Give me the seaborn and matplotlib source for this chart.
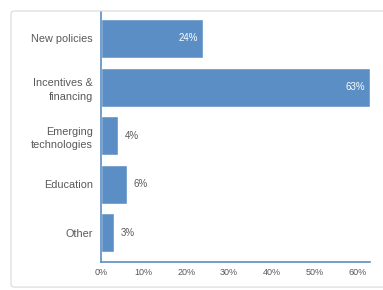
import matplotlib
matplotlib.use('Agg')
import matplotlib.pyplot as plt
import seaborn as sns
import pandas as pd
from matplotlib.patches import FancyBboxPatch

# data
categories = ['New policies', 'Incentives &\nfinancing', 'Emerging\ntechnologies', 'Education', 'Other']
values = [24, 63, 4, 6, 3]
tick_vals = [0, 10, 20, 30, 40, 50, 60]
tick_labels = ['0%', '10%', '20%', '30%', '40%', '50%', '60%']

bar_color = '#5B8EC4'
text_color = '#595959'

sns.set_style('white')
plt.rcParams['font.family'] = ['Liberation Sans', 'DejaVu Sans']

df = pd.DataFrame({'cat': categories, 'val': values})

fig = plt.figure(figsize=(3.83, 2.90), dpi=100)
ax = fig.add_axes([101 / 383, 1 - 262 / 290, (370 - 101) / 383, (262 - 12) / 290])

sns.barplot(data=df, x='val', y='cat', color=bar_color, saturation=1, width=0.8, ax=ax)

ax.set_xlim(0, 63)
ax.set_ylim(4.6, -0.545)
ax.set_xticks(tick_vals)
ax.set_xticklabels(tick_labels, fontsize=6.5, color=text_color)
ax.tick_params(axis='y', labelsize=7.8, labelcolor=text_color, length=0, pad=6)
ax.tick_params(axis='x', length=2.5, color=bar_color, width=0.8, pad=2)
for lbl in ax.get_yticklabels():
    lbl.set_horizontalalignment('right')
    lbl.set_multialignment('right')
    lbl.set_linespacing(1.45)
ax.set_xlabel('')
ax.set_ylabel('')

for s in ['top', 'right']:
    ax.spines[s].set_visible(False)
for s in ['left', 'bottom']:
    ax.spines[s].set_color(bar_color)
    ax.spines[s].set_linewidth(1.2)

# value labels
for i, v in enumerate(values):
    if v > 15:
        ax.text(v - 1.2, i, f'{v}%', ha='right', va='center', fontsize=7, color='white')
    else:
        ax.text(v + 1.5, i, f'{v}%', ha='left', va='center', fontsize=7, color=text_color)

# faint outer frame
frame = FancyBboxPatch((11 / 383, 0.01), 1.2, 1 - 11 / 290 - 0.01,
                       boxstyle='round,pad=0,rounding_size=0.01',
                       transform=fig.transFigure, fill=False,
                       edgecolor='#D9D9D9', linewidth=0.8, zorder=0)
fig.patches.append(frame)

fig.savefig('out.png', dpi=100)
